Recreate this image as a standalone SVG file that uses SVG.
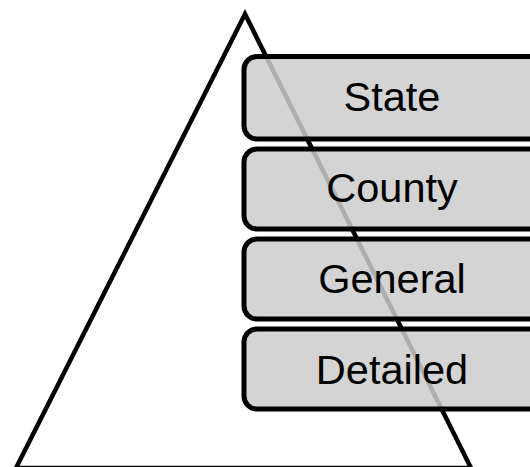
<svg xmlns="http://www.w3.org/2000/svg" width="530" height="467" viewBox="0 0 530 467">
<style>
.tri{fill:none;stroke:#000;stroke-width:4.5;stroke-linejoin:miter}
.box{fill:#cccccc;fill-opacity:0.85;stroke:#000;stroke-width:5}
.lbl{font-family:"Liberation Sans",Arial,sans-serif;font-size:41.5px;fill:#000;text-anchor:middle}
</style>
<rect width="530" height="467" fill="#fff"/>
<g id="pyramid">
<polygon class="tri" points="245,14 16,468 471,468"/>
</g>
<g id="connectors"></g>
<g id="state">
<rect class="box" x="244" y="56.5" width="300" height="82.5" rx="13"/>
<text class="lbl" x="392" y="111">State</text>
</g>
<g id="county">
<rect class="box" x="244" y="149" width="300" height="80" rx="13"/>
<text class="lbl" x="392" y="202">County</text>
</g>
<g id="general">
<rect class="box" x="244" y="239" width="300" height="80" rx="13"/>
<text class="lbl" x="392" y="293">General</text>
</g>
<g id="detailed">
<rect class="box" x="244" y="329" width="300" height="80" rx="13"/>
<text class="lbl" x="392" y="384">Detailed</text>
</g>
</svg>
